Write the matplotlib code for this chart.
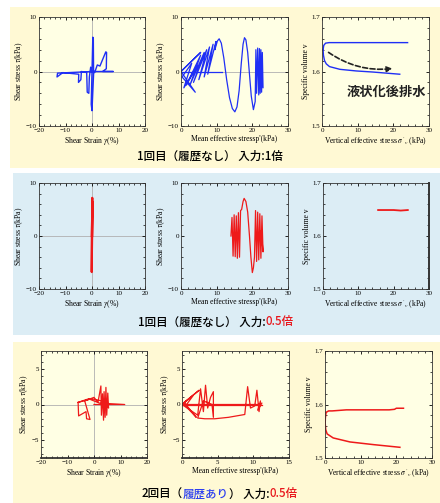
import matplotlib
matplotlib.use('Agg')
import matplotlib.pyplot as plt
from matplotlib.patches import Rectangle

plt.rcParams['font.family'] = ['Liberation Serif', 'DejaVu Serif']
plt.rcParams['mathtext.fontset'] = 'stix'

# ---- row 1 : 1st run, no history, input x1 (blue) ----
r1_strain = [0, -13, -13.2, -11, -5, -5.1, -4.2, -4, -2, -1.8, -1.2, -1, -0.5, 0, 0.3, 0.5, 0.6, 0,
             -0.3, 0, 1, 2, 3, 5.2, 5.5, 5.4, 4, 8, 0]
r1_tau_a = [0, -0.3, -1.0, -0.2, -0.5, -2.0, -1.5, 0, -0.2, -3.8, -4.0, -1.0, 0.8, 0, 6.3, 6.0, -0.5, -7.2,
            -6.0, 0, -0.2, 1.2, 1.0, 3.6, 3.5, 0.5, 0, 0, 0]
r1_p = [0, 5.5, 0, 4.0, 0.3, 3.0, 0.8, 4.5, 1.5, 5.5, 2.5, 6.5, 3.5, 7.2, 5.0, 8.0, 6.5, 9.0, 7.5,
        9.8, 9.5, 10.2, 10.7, 11.3, 12.0, 12.8, 13.6, 14.4, 15.1, 15.7, 16.3, 16.9, 17.4, 17.8,
        18.2, 18.7, 19.2, 19.7, 20.3, 20.8, 21.0, 21.2, 21.5, 21.8, 22.0, 22.2, 22.4, 22.6, 22.8,
        23.0, 22.5, 22.0]
r1_tau_b = [0, 3.5, 0, -3.8, -1.0, 1.5, -3.0, 1.0, -2.5, 3.0, -2.5, 3.5, -2.0, 4.0, -1.5, 4.5, -1.0,
            5.0, -0.5, 5.5, 4.0, 5.6, 6.0, 5.2, 2.5, -1.5, -4.8, -6.8, -7.4, -6.5, -3.5, 1.5, 5.0,
            6.2, 5.8, 3.5, -0.5, -4.5, -7.0, -5.5, 4.0, -4.0, 4.3, -4.3, 4.2, -4.0, 4.0, -3.8, 3.5,
            -3.0, 1.5, 0]
r1_line_p = [0, 11.5]
r1_sv_up_x = [0.3, 0.5, 1, 2, 5, 10, 24]
r1_sv_up_y = [1.640, 1.648, 1.652, 1.653, 1.653, 1.653, 1.653]
r1_sv_lo_x = [0.3, 0.4, 0.7, 1.2, 2.1, 5, 9.6, 14.3, 21.8]
r1_sv_lo_y = [1.640, 1.630, 1.620, 1.614, 1.609, 1.604, 1.601, 1.599, 1.595]

# ---- row 2 : 1st run, no history, input x0.5 (red) ----
r2_strain = [0, 0.1, -0.1, 0.1, 0]
r2_tau_a = [0, 7.2, -6.8, 6.5, 0]
r2_p = [14.0, 14.3, 14.6, 14.9, 15.2, 15.5, 15.8, 16.1, 16.4, 16.7, 17.0, 17.4, 17.7, 18.2, 18.7,
        19.2, 19.6, 20.0, 20.3, 20.6, 20.9, 21.2, 21.5, 21.8, 22.1, 22.4, 22.7, 23.0, 22.5, 21.0]
r2_tau_b = [0, 3.5, -3.8, 4.0, -3.9, 3.8, -4.2, 4.4, -4.0, 4.8, 5.0, 6.5, 7.1, 6.5, 4.5,
            0, -4.0, -6.9, -6.0, -4.0, 4.8, -4.8, 4.5, -4.5, 4.2, -4.2, 3.8, -3.0, 1.0, 0]
r2_sv_x = [15.6, 18, 20, 22, 24]
r2_sv_y = [1.649, 1.649, 1.649, 1.648, 1.649]

# ---- row 3 : 2nd run, with history, input x0.5 (red) ----
r3_strain = [0, 11.6, 2, -2, -6, -5.8, -3, -2.8, -1.5, -3.5, 0, 1.5, 2.6, 2.8, 3.2, 3.6, 3.8, 4.2,
             4.5, 4.8, 5.2, 5.5, 5.0, 4, 3, -1, -6]
r3_tau_a = [0, 0, 0.2, 0.8, 0.3, -1.6, -1.0, -2.0, -2.1, 0.5, 1.0, 0.3, 2.6, -1.5, 1.5, -2.2, 1.8,
            -1.8, 2.4, -1.5, 1.6, -0.5, 0, 0.3, 0.5, 0.8, 0.3]
r3_p = [0, 2.4, 0.3, 2.0, 0.5, 1.6, 0, 2.2, 2.6, 3.0, 3.3, 3.6, 4.0, 4.4, 4.4, 4.2, 3.0, 2.2, 3.2,
        4.6, 6.5, 8.8, 9.2, 9.4, 9.6, 10.2, 10.5, 10.8, 11.0, 10.6, 11.2, 10.7, 0]
r3_tau_b = [0, 2.0, 0.3, -1.8, -0.2, 1.3, 0, -1.5, 2.2, -1.0, 2.7, -0.5, 1.0, 1.8, -1.8, 0, 0.5,
            -1.9, -2.0, -2.0, -1.8, -1.4, 2.5, 1.0, -0.5, -0.2, 2.0, -1.0, 0.5, -0.8, 0.2, 0, 0]
r3_line_p = [0, 11.2]
r3_sv_up_x = [0.2, 0.5, 1, 2, 4, 6, 10, 15, 18, 19.5, 20, 22]
r3_sv_up_y = [1.585, 1.586, 1.588, 1.588, 1.589, 1.590, 1.590, 1.590, 1.590, 1.591, 1.593, 1.593]
r3_sv_lo_x = [0.3, 0.1, 0.05, 0.2, 0.6, 2.3, 7, 13.6, 21]
r3_sv_lo_y = [1.585, 1.575, 1.565, 1.553, 1.545, 1.5375, 1.530, 1.525, 1.520]

captions = [
    [('1回目（履歴なし） 入力:1倍', 'black')],
    [('1回目（履歴なし） 入力:', 'black'), ('0.5倍', '#e8161b')],
    [('2回目（', 'black'), ('履歴あり', '#2a3df0'), ('） 入力:', 'black'), ('0.5倍', '#e8161b')],
]

BLUE = '#1f2ff5'
RED = '#ee1a1a'
YEL_BG = '#fff9d4'
YEL_AX = '#ffffe4'
BLU_BG = '#dcedf5'

W, H = 440, 503
fig = plt.figure(figsize=(4.4, 5.03), dpi=100)

bg = fig.add_axes([0, 0, 1, 1], zorder=-5)
bg.set_xlim(0, W)
bg.set_ylim(H, 0)
bg.axis('off')
bg.add_patch(Rectangle((10, 7), 430, 161, color=YEL_BG, lw=0))
bg.add_patch(Rectangle((13, 173), 427, 162, color=BLU_BG, lw=0))
bg.add_patch(Rectangle((13, 342), 427, 161, color=YEL_BG, lw=0))

# captions (pieces chained left to right)
cap_pos = [(137, 156), (138, 322), (142, 494)]
for (x0, y0), parts in zip(cap_pos, captions):
    prev = None
    for txt, col in parts:
        if prev is None:
            prev = bg.text(x0, y0, txt, color=col, fontsize=8.3, va='center', ha='left',
                           family=['Noto Sans CJK JP', 'DejaVu Sans'], fontweight='medium')
        else:
            prev = bg.annotate(txt, xy=(1, 0), xycoords=prev, va='bottom', ha='left', color=col,
                               fontsize=8.3, family=['Noto Sans CJK JP', 'DejaVu Sans'],
                               fontweight='medium')


def px_axes(x0, x1, y0, y1):
    return fig.add_axes([x0 / W, 1 - y1 / H, (x1 - x0) / W, (y1 - y0) / H])


def style(ax, face):
    ax.set_facecolor(face)
    ax.tick_params(direction='in', top=True, right=True, labelsize=5, length=2, width=0.6, pad=1.5)
    ax.tick_params(which='minor', direction='in', top=True, right=True, length=1.2, width=0.5)
    ax.minorticks_on()
    for s in ax.spines.values():
        s.set_linewidth(0.6)
        s.set_color('#333333')
    ax.xaxis.labelpad = 1.5
    ax.yaxis.labelpad = 1


rows_y = [(17, 126), (183, 289), (351, 458)]
cols_x = [[(39, 145), (181, 288), (322, 429)],
          [(39, 145), (181, 288), (323, 429)],
          [(41, 147), (182, 289), (325, 432)]]
faces = [YEL_AX, BLU_BG, YEL_AX]

lab_kw = dict(fontsize=5.5)
axs = []
for r in range(3):
    row = []
    for c in range(3):
        a = px_axes(cols_x[r][c][0], cols_x[r][c][1], rows_y[r][0], rows_y[r][1])
        style(a, faces[r])
        row.append(a)
    axs.append(row)

for r in range(3):
    a, b, c = axs[r]
    a.set_xlim(-20, 20)
    a.set_xticks([-20, -10, 0, 10, 20])
    a.axvline(0, color='#b0b0b0', lw=0.6, zorder=0)
    a.axhline(0, color='#b0b0b0', lw=0.6, zorder=0)
    a.set_xlabel('Shear Strain $\\gamma$(%)', **lab_kw)
    a.set_ylabel('Shear stress $\\tau$(kPa)', **lab_kw)
    b.set_xlabel("Mean effective stressp'(kPa)", **lab_kw)
    b.set_ylabel('Shear stress $\\tau$(kPa)', **lab_kw)
    c.set_xlim(0, 30)
    c.set_ylim(1.5, 1.7)
    c.set_xticks([0, 10, 20, 30])
    c.set_yticks([1.5, 1.6, 1.7])
    c.set_xlabel("Vertical effective stress $\\sigma'_v$ (kPa)", **lab_kw)
    c.set_ylabel('Specific volume v', **lab_kw)
    if r < 2:
        a.set_ylim(-10, 10)
        a.set_yticks([-10, 0, 10])
        b.set_ylim(-10, 10)
        b.set_yticks([-10, 0, 10])
        b.set_xlim(0, 30)
        b.set_xticks([0, 10, 20, 30])
    else:
        a.set_ylim(-7.5, 7.5)
        a.set_yticks([-5, 0, 5])
        b.set_ylim(-7.5, 7.5)
        b.set_yticks([-5, 0, 5])
        b.set_xlim(0, 15)
        b.set_xticks([0, 5, 10, 15])

axs[0][1].axhline(0, color='#b0b0b0', lw=0.6, zorder=0)

# row 1
axs[0][0].plot(r1_strain, r1_tau_a, color=BLUE, lw=1.0)
axs[0][1].plot(r1_p, r1_tau_b, color=BLUE, lw=0.9)
axs[0][1].plot(r1_line_p, [0, 0], color=BLUE, lw=0.9)
axs[0][2].plot(r1_sv_up_x, r1_sv_up_y, color=BLUE, lw=1.0)
axs[0][2].plot(r1_sv_lo_x, r1_sv_lo_y, color=BLUE, lw=1.0)
axs[0][2].annotate('', xy=(20.5, 1.606), xytext=(1.2, 1.638),
                   arrowprops=dict(arrowstyle='-|>', linestyle=(0, (3, 1.5)), color='#222222',
                                   lw=1.2, connectionstyle='arc3,rad=0.2', mutation_scale=8))
axs[0][2].text(18, 1.563, '液状化後排水', ha='center', va='center', fontsize=9.5, fontweight='bold',
               family=['Noto Sans CJK JP', 'DejaVu Sans'], color='#222222')

# row 2
axs[1][0].plot(r2_strain, r2_tau_a, color=RED, lw=1.6)
axs[1][1].plot(r2_p, r2_tau_b, color=RED, lw=0.9)
axs[1][2].plot(r2_sv_x, r2_sv_y, color=RED, lw=1.3)
axs[1][2].spines['right'].set_linewidth(1.4)

# row 3
axs[2][0].plot(r3_strain, r3_tau_a, color=RED, lw=0.9)
axs[2][1].plot(r3_p, r3_tau_b, color=RED, lw=0.9)
axs[2][1].plot(r3_line_p, [0, 0], color=RED, lw=0.9)
axs[2][2].plot(r3_sv_up_x, r3_sv_up_y, color=RED, lw=1.1)
axs[2][2].plot(r3_sv_lo_x, r3_sv_lo_y, color=RED, lw=1.1)
axs[2][0].spines['bottom'].set_linewidth(1.3)
axs[2][1].spines['bottom'].set_linewidth(1.3)

fig.savefig('out.png', dpi=100)
